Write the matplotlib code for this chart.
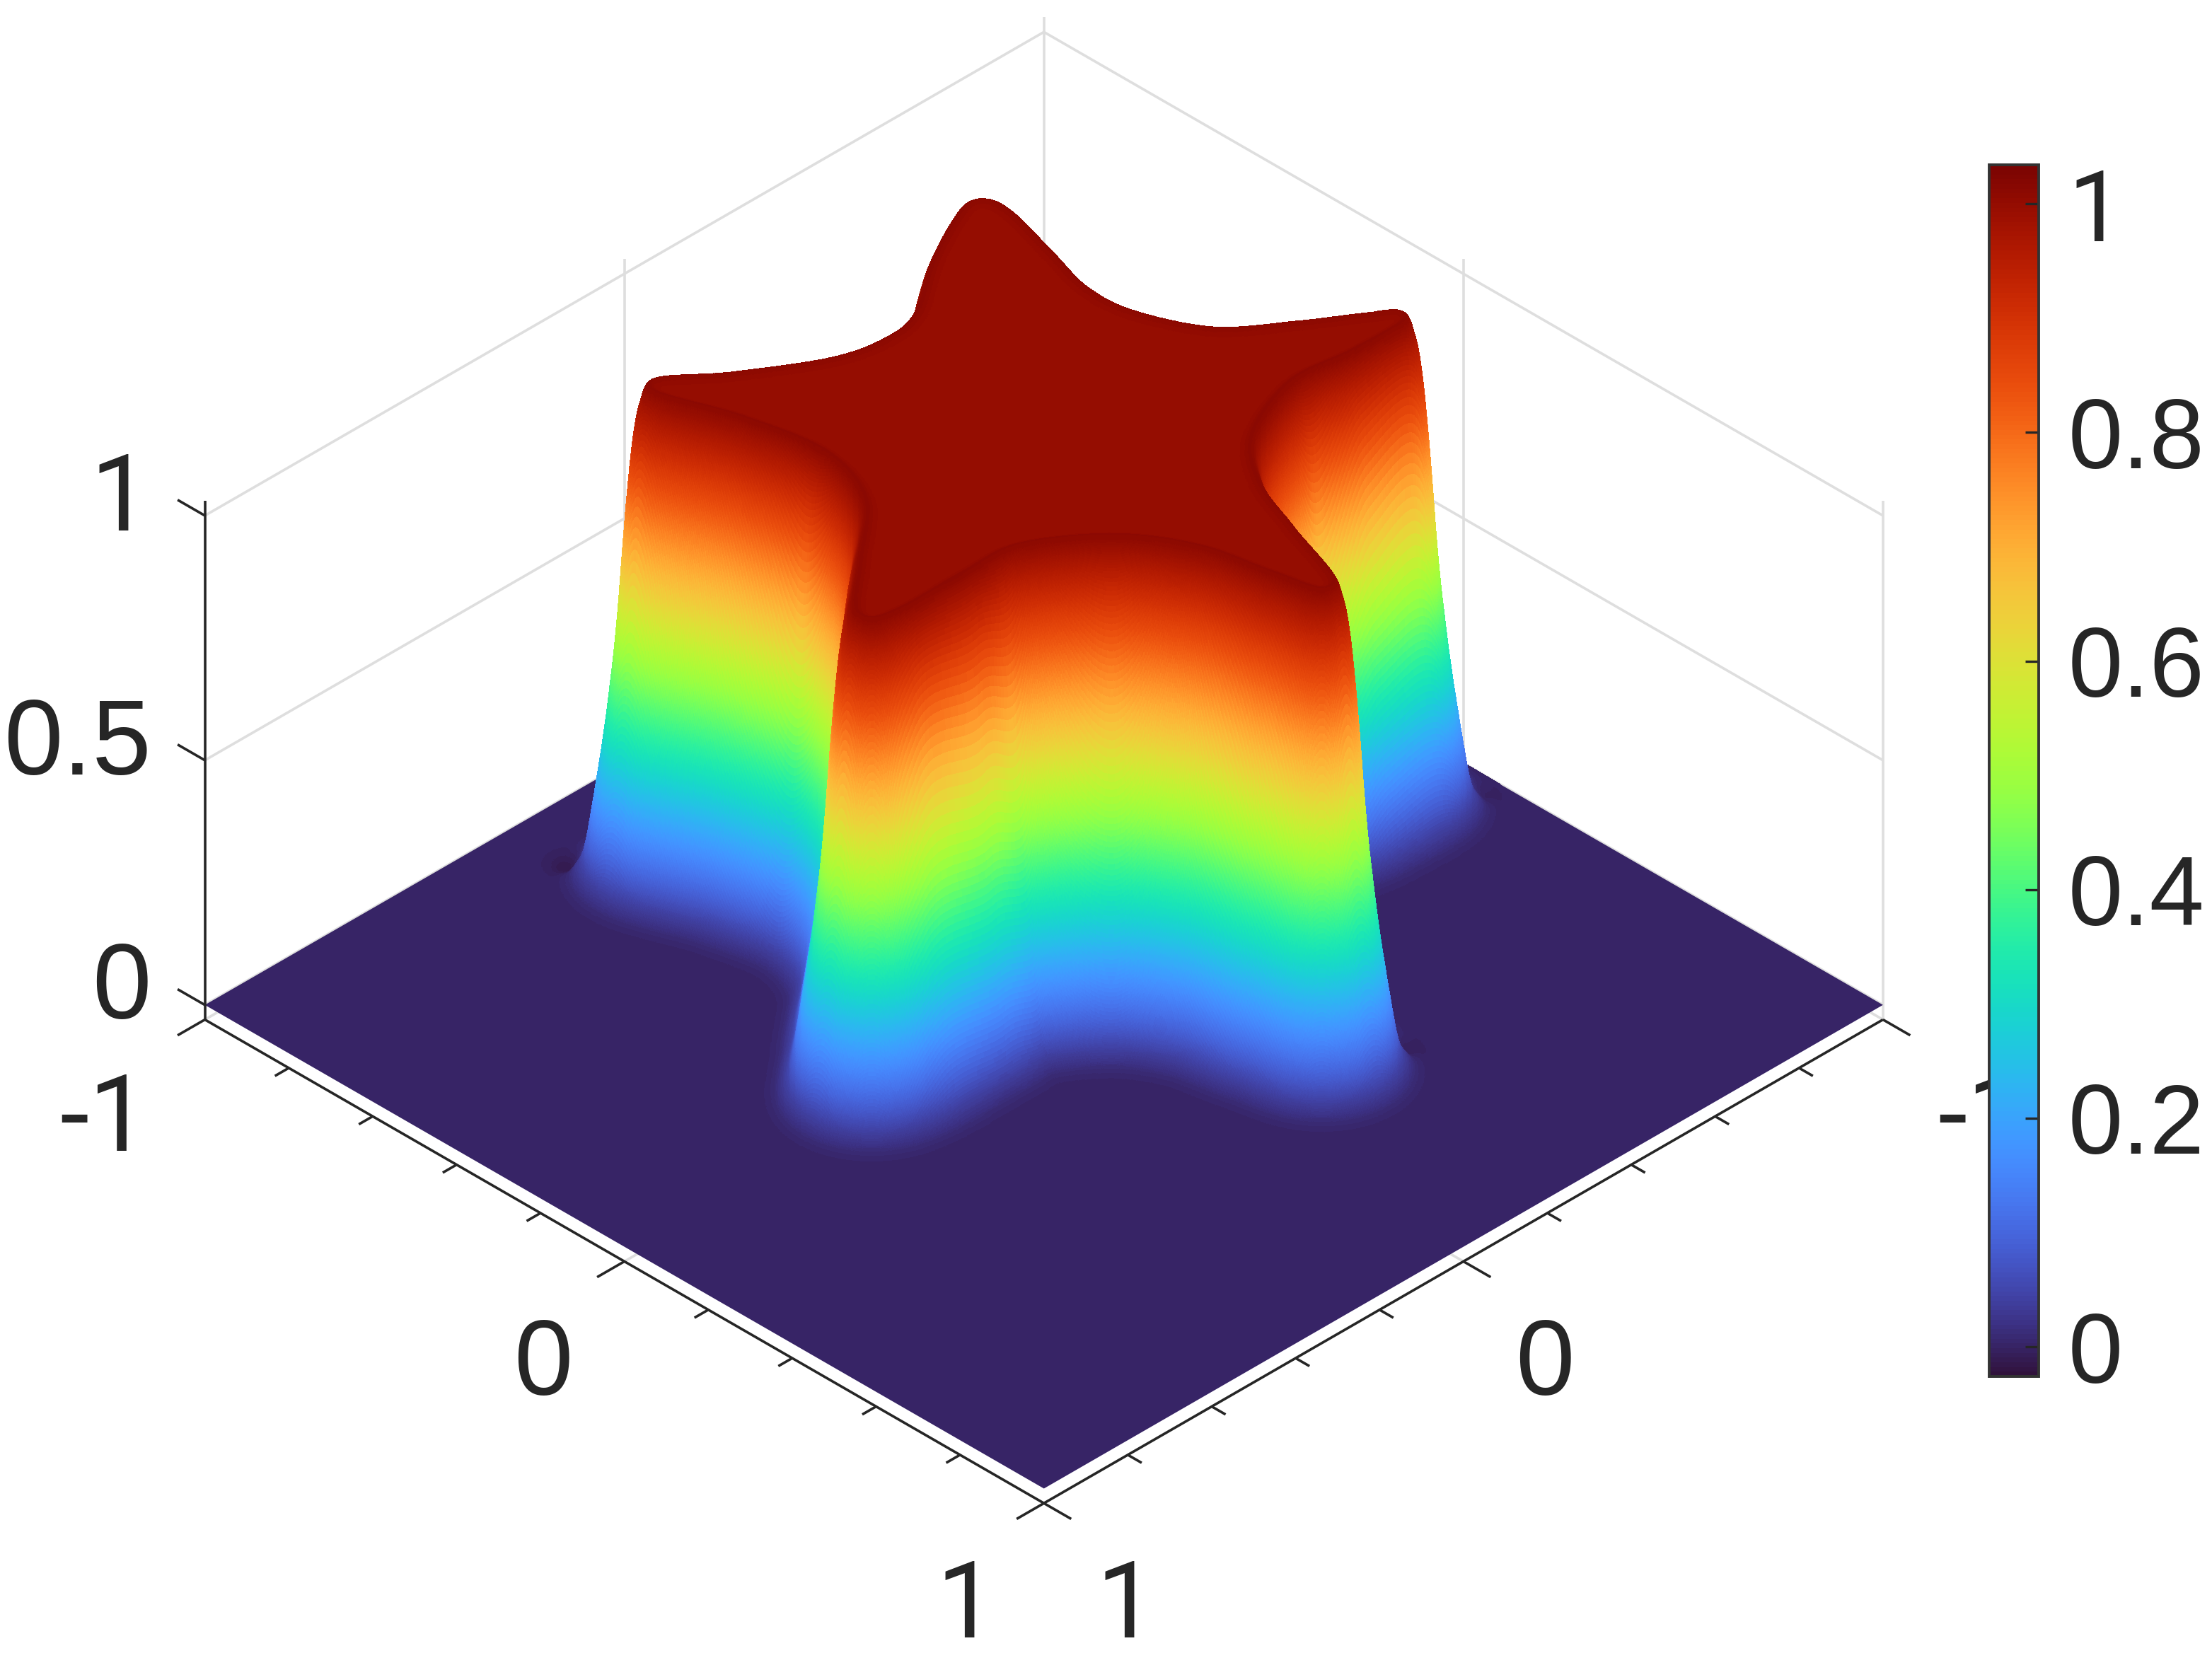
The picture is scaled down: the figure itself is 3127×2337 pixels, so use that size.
import numpy as np
import matplotlib
matplotlib.use('Agg')
import matplotlib.pyplot as plt
from matplotlib.cm import ScalarMappable
from matplotlib.colors import Normalize
from matplotlib.path import Path
from mpl_toolkits.mplot3d.art3d import Poly3DCollection

plt.rcParams['font.family'] = ['Liberation Sans', 'DejaVu Sans']

# top edge of the plateau
star_x = [0.200, 0.094, -0.053, -0.161, -0.261, -0.393, -0.505, -0.558, -0.564, -0.529,
          -0.498, -0.505, -0.570, -0.683, -0.780, -0.820, -0.700, -0.560, -0.398, -0.304,
          -0.250, -0.190, -0.160, -0.127, -0.046, 0.092, 0.218, 0.370, 0.415, 0.310,
          0.173, 0.121, 0.149]
star_y = [-0.720, -0.645, -0.557, -0.530, -0.546, -0.635, -0.695, -0.709, -0.658, -0.529,
          -0.414, -0.303, -0.167, -0.078, -0.014, 0.020, 0.020, 0.010, 0.077, 0.187,
          0.320, 0.480, 0.390, 0.250, 0.122, 0.025, 0.016, 0.015, -0.010, -0.105,
          -0.231, -0.383, -0.557]

# height against distance outside the plateau edge
wall_dist = [-1.0, 0.0, 0.02, 0.04, 0.055, 0.07, 0.09, 0.11, 0.125, 0.15, 0.175, 1.5]
wall_z = [1.0, 1.0, 1.015, 0.93, 0.75, 0.50, 0.30, 0.15, 0.05, 0.01, 0.0, 0.0]

# small dips beside the feet of three arms
dip_x = [0.272, -0.941, -0.324]
dip_y = [-0.855, 0.084, 0.516]
dip_depth = [0.02, 0.015, 0.02]

z_min = -0.03
z_max = 1.03
c_min = -0.026
c_max = 1.034
xy_ticks = [-1, -0.8, -0.6, -0.4, -0.2, 0, 0.2, 0.4, 0.6, 0.8, 1]
xy_major = [-1, 0, 1]
z_ticks = [0, 0.5, 1]
cbar_ticks = [0, 0.2, 0.4, 0.6, 0.8, 1]
cbar_labels = ['0', '0.2', '0.4', '0.6', '0.8', '1']

W, H = 3127, 2337
SHR = 1568.0
def fx(px):
    return px / SHR
def fy(py):
    return 1 - py / 1172.0

fig = plt.figure(figsize=(W / 100, H / 100), dpi=100, facecolor='white')

# 3d axes, square, placed so the box centre lands where it should
S = 2600
cx_px, cy_px = 1475.6 - 35, 2337 - 1074 - 36
ax = fig.add_axes([(cx_px - S / 2) / W, (cy_px - S / 2) / H, S / W, S / H],
                  projection='3d', proj_type='ortho', computed_zorder=False)
ax.set_box_aspect((2, 2, 1.07), zoom=0.947)
ax.view_init(elev=35.2, azim=45)
ax.set_axis_off()
ax.patch.set_alpha(0)

norm = Normalize(c_min, c_max)
cmap = plt.get_cmap('turbo')

# closed smooth curve through the read points (catmull-rom)
u = np.linspace(0, 1, 50, endpoint=False)[:, None]
def spline(p):
    p = np.array(p)
    a, b, c, d = np.roll(p, 1), p, np.roll(p, -1), np.roll(p, -2)
    s = 0.5 * (2 * b + (c - a) * u + (2 * a - 5 * b + 4 * c - d) * u**2 + (3 * b - a - 3 * c + d) * u**3)
    return s.T.ravel()
edge_x = spline(star_x)
edge_y = spline(star_y)
edge_path = Path(np.c_[edge_x, edge_y])

# signed distance to the edge on a coarse grid, then refined
cx = np.arange(-1, 0.706, 0.006)
cy = np.arange(-1, 0.756, 0.006)
cd = np.zeros((len(cx), len(cy)))
for i, xv in enumerate(cx):
    dd = np.hypot(xv - edge_x[:, None], cy - edge_y[:, None]).min(axis=0)
    dd[edge_path.contains_points(np.c_[np.full_like(cy, xv), cy])] *= -1
    cd[i] = dd

h = 0.0015
gx = np.arange(-1, cx[-1] + h / 2, h)
gy = np.arange(-1, cy[-1] + h / 2, h)
tmp = np.stack([np.interp(gy, cy, row) for row in cd])
D = np.stack([np.interp(gx, cx, tmp[:, j]) for j in range(tmp.shape[1])], axis=1)
X, Y = np.meshgrid(gx, gy, indexing='ij')

# rounded wall profile
fine_d = np.arange(-1.0, 1.5, 0.001)
fine_z = np.interp(fine_d, wall_dist, wall_z)
k2 = np.ones(15) / 15
fine_z = np.convolve(np.r_[np.ones(15), fine_z, np.zeros(15)], k2, mode='same')[15:-15]
Z = np.interp(D, fine_d, fine_z)
dip = np.zeros_like(Z)
for dx, dy, dz in zip(dip_x, dip_y, dip_depth):
    dip -= dz * np.exp(-((X - dx)**2 + (Y - dy)**2) / 0.03**2)
Z = Z + dip

def cells(ii, jj, st):
    return np.stack([
        np.stack([X[ii, jj], Y[ii, jj], Z[ii, jj]], axis=1),
        np.stack([X[ii + st, jj], Y[ii + st, jj], Z[ii + st, jj]], axis=1),
        np.stack([X[ii + st, jj + st], Y[ii + st, jj + st], Z[ii + st, jj + st]], axis=1),
        np.stack([X[ii, jj + st], Y[ii, jj + st], Z[ii, jj + st]], axis=1)], axis=1)

# fine cells on the part of the wall that faces the viewer
zx = (Z[1:, :-1] - Z[:-1, :-1]) / h
zy = (Z[:-1, 1:] - Z[:-1, :-1]) / h
facing = zx + zy < 1.02
band = (D[:-1, :-1] > -0.065) & (D[:-1, :-1] < 0.19)
keep = facing & (band | (dip[:-1, :-1] < -0.0005))
ii, jj = np.nonzero(keep)
# big blocks on the flat top, so it still sorts against the walls
st = 20
bi, bj = np.meshgrid(np.arange(0, D.shape[0] - st, st), np.arange(0, D.shape[1] - st, st), indexing='ij')
inner = D[bi + st // 2, bj + st // 2] < -0.03
verts = np.concatenate([cells(ii, jj, 1), cells(bi[inner], bj[inner], st)])
cols = cmap(norm(verts[:, :, 2].mean(axis=1)))

GREY = '#dedede'
DARK = '#262626'
LW = 2.6

def grey(xs, ys, zs):
    ax.plot(xs, ys, zs, color=GREY, lw=LW, zorder=1, solid_capstyle='butt')

def dark(xs, ys, zs, lw=LW):
    ax.plot(xs, ys, zs, color=DARK, lw=lw, zorder=5, solid_capstyle='butt')

# back walls
for zv in z_ticks:
    grey([1, -1], [-1, -1], [zv, zv])
    grey([-1, -1], [-1, 1], [zv, zv])
grey([1, -1], [-1, -1], [z_min, z_min])
grey([-1, -1], [-1, 1], [z_min, z_min])
grey([-1, -1], [-1, -1], [z_min, z_max])
grey([-1, -1], [1, 1], [z_min, z_max])
grey([0, 0], [-1, -1], [z_min, z_max])
grey([-1, -1], [0, 0], [z_min, z_max])
grey([0, 0], [-1, 1], [z_min, z_min])
grey([-1, 1], [0, 0], [z_min, z_min])

floor = Poly3DCollection([[(-1, -1, 0), (1, -1, 0), (1, 1, 0), (-1, 1, 0)]],
                         facecolors=[cmap(norm(0))], edgecolors='none', zorder=2)
ax.add_collection3d(floor, autolim=False)

surf = Poly3DCollection(verts, facecolors=cols, edgecolors=cols, linewidths=0.4,
                        antialiased=False, zorder=3)
ax.add_collection3d(surf, autolim=False)

# front axes and ticks
dark([1, 1], [-1, -1], [z_min, z_max])
dark([1, 1], [-1, 1], [z_min, z_min])
dark([-1, 1], [1, 1], [z_min, z_min])
for t in xy_ticks:
    tl = 0.065 if t in xy_major else 0.033
    dark([1, 1 + tl], [t, t], [z_min, z_min])
    dark([t, t], [1, 1 + tl], [z_min, z_min])
for zv in z_ticks:
    dark([1, 1], [-1, -1.065], [zv, zv])

ax.set_xlim(-1, 1, view_margin=0)
ax.set_ylim(-1, 1, view_margin=0)
ax.set_zlim(z_min, z_max, view_margin=0)

# tick labels, the ones use roboto because liberation puts a foot on the 1
FS = 108
TC = '#262626'
ONE = ['Roboto', 'DejaVu Sans']
fig.text(fx(106), fy(376), '1', fontsize=FS, color=TC, ha='right', va='baseline', family=ONE)
fig.text(fx(107), fy(549), '0.5', fontsize=FS, color=TC, ha='right', va='baseline')
fig.text(fx(107), fy(722), '0', fontsize=FS, color=TC, ha='right', va='baseline')
fig.text(fx(74), fy(816), '-1', fontsize=FS, color=TC, ha='center', va='baseline', family=ONE)
fig.text(fx(385), fy(989), '0', fontsize=FS, color=TC, ha='center', va='baseline')
fig.text(fx(685), fy(1161), '1', fontsize=FS, color=TC, ha='center', va='baseline', family=ONE)
fig.text(fx(798), fy(1161), '1', fontsize=FS, color=TC, ha='center', va='baseline', family=ONE)
fig.text(fx(1095), fy(989), '0', fontsize=FS, color=TC, ha='center', va='baseline')
fig.text(fx(1405), fy(816), '-1', fontsize=FS, color=TC, ha='center', va='baseline', family=ONE)

# colorbar sits over the clipped -1 label
cax = fig.add_axes([fx(1410), fy(976), fx(1445) - fx(1410), fy(117) - fy(976)])
cax.set_zorder(5)
cb = fig.colorbar(ScalarMappable(norm=norm, cmap=cmap), cax=cax, ticks=cbar_ticks)
cb.ax.set_yticklabels(cbar_labels)
cb.ax.tick_params(direction='in', length=14, width=2.4, color=DARK, labelsize=100,
                  labelcolor=TC, pad=30)
cb.ax.get_yticklabels()[-1].set_family(ONE)
cb.outline.set_edgecolor('#333333')
cb.outline.set_linewidth(2.8)

fig.savefig('out.png', dpi=100, facecolor='white')
